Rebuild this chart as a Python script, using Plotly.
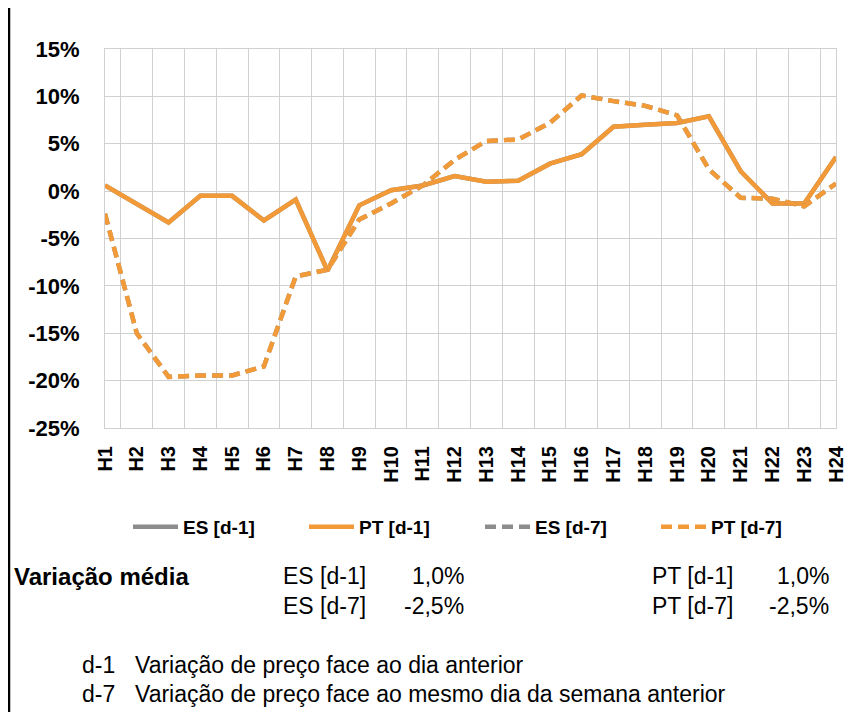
import plotly.graph_objects as go

hours = ["H%d" % i for i in range(1, 25)]

# variação de preço (%)
pt_d1 = [0.6, -1.4, -3.3, -0.5, -0.5, -3.1, -0.9, -8.4, -1.5, 0.1, 0.6, 1.6,
         1.0, 1.1, 2.9, 3.9, 6.8, 7.0, 7.2, 7.9, 2.1, -1.3, -1.3, 3.6]
pt_d7 = [-2.4, -15.0, -19.6, -19.45, -19.45, -18.5, -9.0, -8.3, -3.0, -1.3, 0.6, 3.3,
         5.3, 5.45, 7.2, 10.1, 9.5, 9.0, 8.0, 2.3, -0.7, -0.8, -1.6, 0.8]
# ES igual a PT (fica por baixo)
es_d1 = list(pt_d1)
es_d7 = list(pt_d7)

y_ticks = [15, 10, 5, 0, -5, -10, -15, -20, -25]
y_ticktext = ["15%", "10%", "5%", "0%", "-5%", "-10%", "-15%", "-20%", "-25%"]

avg_labels_es = ["ES [d-1]", "ES [d-7]"]
avg_values_es = ["1,0%", "-2,5%"]
avg_labels_pt = ["PT [d-1]", "PT [d-7]"]
avg_values_pt = ["1,0%", "-2,5%"]

notes_keys = ["d-1", "d-7"]
notes_text = ["Variação de preço face ao dia anterior",
              "Variação de preço face ao mesmo dia da semana anterior"]

ORANGE = "#F29A38"
GREY = "#8C8C8C"
FONT = "Liberation Sans, Arial, sans-serif"

# a página tem 8px de margem no body
OFF = 8
W, H = 861 - OFF, 712 - OFF
L, R, T, B = 97, 25, 41, 284


def px(x):
    return (x - OFF - L) / (W - L - R)


def py(y):
    return (H - B - (y - OFF)) / (H - T - B)


fig = go.Figure()
fig.add_trace(go.Scatter(x=hours, y=es_d1, name="ES [d-1]", mode="lines",
                         line=dict(color=GREY, width=4.5)))
fig.add_trace(go.Scatter(x=hours, y=pt_d1, name="PT [d-1]", mode="lines",
                         line=dict(color=ORANGE, width=4.5)))
fig.add_trace(go.Scatter(x=hours, y=es_d7, name="ES [d-7]", mode="lines",
                         line=dict(color=GREY, width=4.5, dash="11px,6px")))
fig.add_trace(go.Scatter(x=hours, y=pt_d7, name="PT [d-7]", mode="lines",
                         line=dict(color=ORANGE, width=4.5, dash="11px,6px")))

fig.update_xaxes(type="category", tickson="boundaries", showgrid=True,
                 gridcolor="#D0D0D0", gridwidth=1, showline=True, mirror=True,
                 linecolor="#D0D0D0", tickangle=-90, ticks="",
                 tickfont=dict(family=FONT, size=20, color="black", weight="bold"),
                 ticklabelstandoff=9)
fig.update_yaxes(range=[-25, 15], tickvals=y_ticks, ticktext=y_ticktext,
                 showgrid=True, gridcolor="#D0D0D0", gridwidth=1, zeroline=False,
                 showline=True, mirror=True, linecolor="#D0D0D0", ticks="",
                 tickfont=dict(family=FONT, size=22, color="black", weight="bold"),
                 ticklabelstandoff=20)

ann = []
ann.append(dict(text="<b>Variação média</b>", x=px(12), y=py(576), xref="paper",
                yref="paper", xanchor="left", yanchor="middle", showarrow=False,
                font=dict(family=FONT, size=24, color="black")))
for i in range(2):
    yy = py(576 + 30 * i)
    ann.append(dict(text=avg_labels_es[i], x=px(281), y=yy, xanchor="left"))
    ann.append(dict(text=avg_values_es[i], x=px(466), y=yy, xanchor="right"))
    ann.append(dict(text=avg_labels_pt[i], x=px(650), y=yy, xanchor="left"))
    ann.append(dict(text=avg_values_pt[i], x=px(831), y=yy, xanchor="right"))
    yn = py(665 + 29 * i)
    ann.append(dict(text=notes_keys[i], x=px(80), y=yn, xanchor="left"))
    ann.append(dict(text=notes_text[i], x=px(133), y=yn, xanchor="left"))
for a in ann[1:]:
    a.update(xref="paper", yref="paper", yanchor="middle", showarrow=False,
             font=dict(family=FONT, size=23, color="black"))

fig.update_layout(
    width=W, height=H,
    margin=dict(l=L, r=R, t=T, b=B),
    paper_bgcolor="white", plot_bgcolor="white",
    showlegend=True,
    legend=dict(orientation="h", x=px(480), xanchor="center", y=py(527),
                yanchor="middle", font=dict(family=FONT, size=19, color="black",
                                            weight="bold"),
                itemwidth=45, entrywidth=116, traceorder="normal"),
    annotations=ann,
    shapes=[dict(type="line", xref="paper", yref="paper", x0=px(9), x1=px(9),
                 y0=py(0), y1=py(712), line=dict(color="black", width=2.5))],
)

fig.write_html("out.html")
